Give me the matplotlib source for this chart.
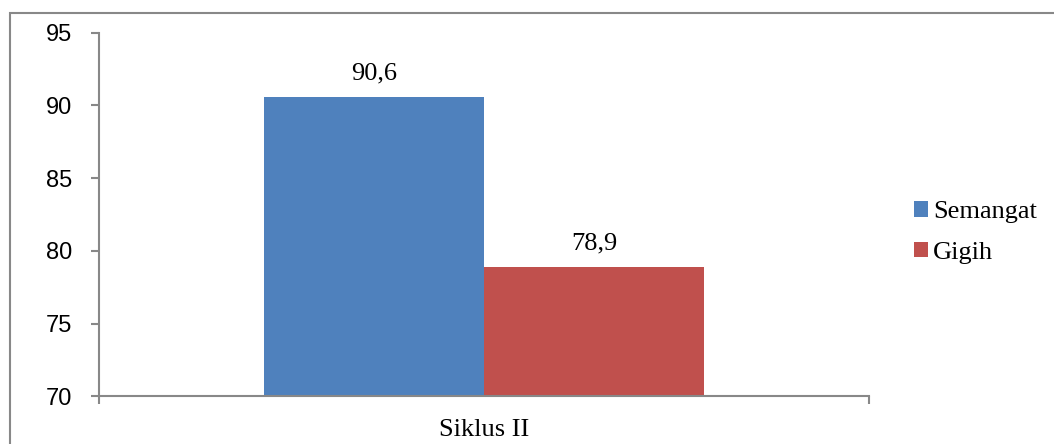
import numpy as np
import matplotlib.pyplot as plt
from matplotlib.patches import Rectangle

# Data
categories = ['Siklus II']
series_names = ['Semangat', 'Gigih']
semangat = [90.6]
gigih = [78.9]
y_ticks = [70, 75, 80, 85, 90, 95]

colors = ['#4F81BD', '#C0504D']
serif = 'Liberation Serif'
sans = 'Liberation Sans'

fig = plt.figure(figsize=(10.54, 4.44), dpi=100)
ax = fig.add_axes([0.0939, 0.107, 0.7306, 0.8198])

# Outer chart border
fig.patches.append(Rectangle((10 / 1054, -0.05), 1.1, 1 - 13.5 / 444 + 0.05,
                             transform=fig.transFigure, fill=False,
                             edgecolor='#888888', linewidth=1.5))

x = np.arange(len(categories))
w = 0.2857
bars1 = ax.bar(x - w / 2, semangat, w, color=colors[0], label=series_names[0])
bars2 = ax.bar(x + w / 2, gigih, w, color=colors[1], label=series_names[1])

for bars, vals in [(bars1, semangat), (bars2, gigih)]:
    for b, v in zip(bars, vals):
        ax.annotate(f'{v:.1f}'.replace('.', ','),
                    (b.get_x() + b.get_width() / 2, v),
                    xytext=(0, 9), textcoords='offset points',
                    ha='center', va='bottom', fontsize=19, family=serif)

ax.set_ylim(70, 95)
ax.set_xlim(-0.5, 0.5)
ax.set_yticks(y_ticks)
ax.set_yticklabels([str(t) for t in y_ticks], fontsize=17, family=sans)

# category boundaries as ticks, label at centre
ax.set_xticks([-0.5, 0.5])
ax.set_xticklabels(['', ''])
ax.set_xticks(x, minor=True)
ax.set_xticklabels(categories, minor=True, fontsize=19, family=serif)
ax.tick_params(axis='x', which='minor', length=0, pad=16)
ax.tick_params(axis='x', which='major', length=6, width=1.5, color='#888888')
ax.tick_params(axis='y', length=6, width=1.5, color='#888888', pad=13)

for s in ['top', 'right']:
    ax.spines[s].set_visible(False)
for s in ['left', 'bottom']:
    ax.spines[s].set_color('#888888')
    ax.spines[s].set_linewidth(1.5)

fig.legend(loc='center left', bbox_to_anchor=(0.867, 0.476), frameon=False,
           prop={'family': serif, 'size': 19}, handlelength=0.53,
           handleheight=0.53, handletextpad=0.2, labelspacing=0.7,
           borderpad=0, borderaxespad=0)

plt.savefig('out.png', dpi=100)
